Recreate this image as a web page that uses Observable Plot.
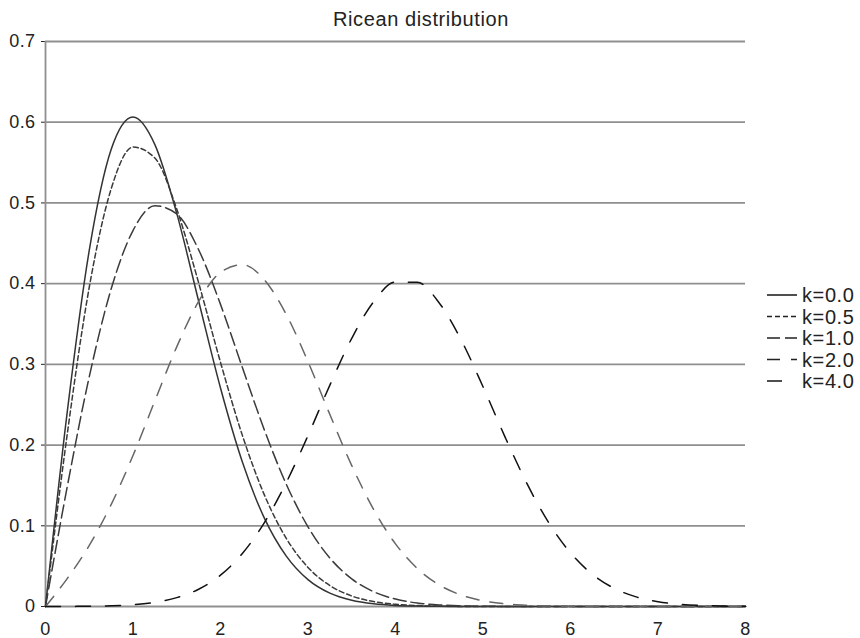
<!DOCTYPE html>
<html>
<head>
<meta charset="utf-8">
<script src="https://cdn.jsdelivr.net/npm/d3@7"></script>
<script src="https://cdn.jsdelivr.net/npm/@observablehq/plot@0.6"></script>
<style>
  html, body { margin: 0; padding: 0; background: #fff; }
  #wrap { position: relative; width: 860px; height: 638px; font-family: "Liberation Sans", Arial, Helvetica, sans-serif; }
  #title { position: absolute; left: 0; top: 0; }
  #chart { position: absolute; left: 0; top: 30px; }
  #legend { position: absolute; left: 760px; top: 280px; }
</style>
</head>
<body>
<div id="wrap">
  <div id="title"></div>
  <div id="chart"></div>
  <div id="legend"></div>
</div>
<script>
// x positions (shared by all series)
const xs = [0,0.25,0.5,0.75,1,1.25,1.5,1.75,2,2.25,2.5,2.75,3,3.25,3.5,3.75,4,4.25,4.5,4.75,5,5.25,5.5,5.75,6,6.25,6.5,6.75,7,7.25,7.5,7.75,8];
const labels = ["k=0.0","k=0.5","k=1.0","k=2.0","k=4.0"];
const k00 = [0,.2423,.4412,.5661,.6065,.5723,.4870,.3785,.2707,.1790,.1098,.0627,.0333,.0165,.0077,.0033,.0013,.0005,.0002,.0001,0,0,0,0,0,0,0,0,0,0,0,0,0];
const k05 = [0,.2147,.3955,.5173,.5692,.5556,.4924,.4011,.3025,.2120,.1386,.0847,.0484,.0259,.0130,.0061,.0027,.0011,.0004,.0001,0,0,0,0,0,0,0,0,0,0,0,0,0];
const k10 = [0,.1493,.2846,.3933,.4658,.4965,.4864,.4420,.3743,.2961,.2191,.1519,.0987,.0600,.0343,.0183,.0092,.0043,.0019,.0008,.0003,.0001,0,0,0,0,0,0,0,0,0,0,0];
const k20 = [0,.0349,.0756,.1262,.1871,.2548,.3217,.3779,.4140,.4235,.4049,.3622,.3033,.2378,.1746,.1203,.0776,.0470,.0267,.0142,.0071,.0033,.0015,.0006,.0002,.0001,0,0,0,0,0,0,0];
const k40 = [0,.0001,.0003,.0009,.0023,.0052,.0110,.0214,.0388,.0657,.1037,.1532,.2118,.2743,.3323,.3776,.4020,.4016,.3761,.3304,.2723,.2105,.1528,.1040,.0665,.0399,.0225,.0119,.0059,.0027,.0012,.0005,.0002];
const yTicks = [0,0.1,0.2,0.3,0.4,0.5,0.6,0.7];
const xTicks = [0,1,2,3,4,5,6,7,8];
const titleText = "Ricean distribution";

const seriesValues = [k00,k05,k10,k20,k40];
const styles = [
  {stroke:"#333333", dash:null},
  {stroke:"#3a3a3a", dash:"5,3"},
  {stroke:"#3a3a3a", dash:"13,5"},
  {stroke:"#666666", dash:"13,11"},
  {stroke:"#111111", dash:"15,15"}
];
const FONT = '"Liberation Sans", Arial, Helvetica, sans-serif';

const series = seriesValues.map((vals, i) => xs.map((x, j) => ({x, y: vals[j], k: labels[i]})));

const plot = Plot.plot({
  width: 860,
  height: 608,
  marginLeft: 45,
  marginRight: 115,
  marginTop: 11,
  marginBottom: 32,
  style: {fontFamily: FONT, fontSize: "18px", color: "#222", background: "#fff", letterSpacing: "0.4px"},
  x: {domain: [0, 8], ticks: xTicks, tickSize: 0, tickPadding: 16, label: null},
  y: {domain: [0, 0.7], ticks: yTicks, tickSize: 4, tickPadding: 6, label: null, tickFormat: d => d === 0 ? "0" : d3.format(".1f")(d)},
  marks: [
    Plot.ruleY(yTicks, {stroke: "#8f8f8f", strokeWidth: 1.8}),
    Plot.ruleX([0], {y1: 0, y2: 0.7, stroke: "#8f8f8f", strokeWidth: 1.8}),
    ...series.map((d, i) => Plot.line(d, {
      x: "x", y: "y",
      stroke: styles[i].stroke,
      strokeWidth: 1.5,
      strokeDasharray: styles[i].dash,
      curve: "monotone-x"
    }))
  ]
});
document.getElementById("chart").appendChild(plot);

// title
d3.select("#title").append("svg").attr("width", 860).attr("height", 30)
  .append("text").attr("x", 421).attr("y", 26).attr("text-anchor", "middle")
  .attr("font-family", FONT).attr("font-size", 20).attr("letter-spacing", "0.6px")
  .attr("fill", "#222").text(titleText);

// legend
const lg = d3.select("#legend").append("svg").attr("width", 100).attr("height", 115)
  .style("font-family", FONT);
labels.forEach((lab, i) => {
  const y = 15 + i * 21.5;
  lg.append("line").attr("x1", 7).attr("x2", 37).attr("y1", y).attr("y2", y)
    .attr("stroke", "#222").attr("stroke-width", 1.6)
    .attr("stroke-dasharray", styles[i].dash);
  lg.append("text").attr("x", 42).attr("y", y).attr("dy", "0.36em")
    .attr("font-size", 20).attr("letter-spacing", "0.6px").attr("fill", "#222").text(lab);
});
</script>
</body>
</html>
